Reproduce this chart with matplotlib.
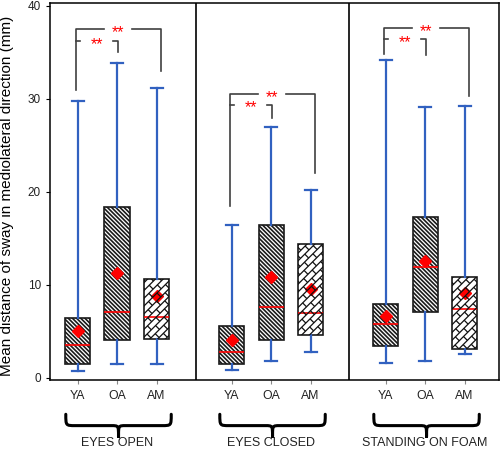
import numpy as np
import matplotlib
matplotlib.use('Agg')
import matplotlib.pyplot as plt
from matplotlib.path import Path
from matplotlib.patches import PathPatch
from matplotlib.collections import LineCollection
from matplotlib import transforms

plt.rcParams['font.family'] = ['Liberation Sans', 'DejaVu Sans']
plt.rcParams['hatch.linewidth'] = 1.2

# data (mm)
groups = ['EYES OPEN', 'EYES CLOSED', 'STANDING ON FOAM']
subjects = ['YA', 'OA', 'AM']
whis_lo = [0.75, 1.5, 1.5, 0.9, 1.8, 2.8, 1.6, 1.8, 2.6]
q1 = [1.5, 4.1, 4.2, 1.5, 4.1, 4.6, 3.4, 7.1, 3.1]
med = [3.5, 7.1, 6.6, 2.8, 7.6, 7.0, 5.8, 11.9, 7.4]
q3 = [6.45, 18.4, 10.6, 5.6, 16.5, 14.4, 8.0, 17.3, 10.9]
whis_hi = [29.8, 33.9, 31.2, 16.5, 27.0, 20.2, 34.2, 29.1, 29.2]
means = [5.1, 11.3, 8.8, 4.1, 10.9, 9.6, 6.7, 12.6, 9.1]

# significance brackets (YA vs AM = outer, YA vs OA = inner)
sig_label = '**'
outer_y = [37.5, 30.5, 37.6]
outer_left_end = [31.0, 18.5, 34.8]
outer_right_end = [33.0, 22.0, 30.3]
inner_y = [36.2, 29.4, 36.4]
inner_right_end = [35.0, 28.0, 34.7]

yticks = [0, 10, 20, 30, 40]
ylabel = 'Mean distance of sway in mediolateral direction (mm)'

# layout
group_start = [1.0, 4.9, 8.8]
dividers = [4.0, 7.87]
positions = [s + k for s in group_start for k in range(3)]
blue = '#3161c0'
brk = '#404040'

fig = plt.figure(figsize=(5, 4.5), dpi=100)
ax = fig.add_axes([50 / 500, 1 - 380 / 450, 449 / 500, 377 / 450])
ax.set_xlim(0.3, 11.67)
ax.set_ylim(-0.22, 40.32)

stats = []
for i in range(9):
    stats.append(dict(label=subjects[i % 3], whislo=whis_lo[i], q1=q1[i], med=med[i],
                      q3=q3[i], whishi=whis_hi[i], mean=means[i], fliers=[]))

bp = ax.bxp(stats, positions=positions, widths=0.64, capwidths=0.3, patch_artist=True,
            showmeans=True, manage_ticks=False,
            boxprops=dict(facecolor='white', edgecolor='#1a1a1a', linewidth=1.2),
            whiskerprops=dict(color=blue, linewidth=1.6),
            capprops=dict(color=blue, linewidth=1.6),
            medianprops=dict(color='red', linewidth=1.2),
            meanprops=dict(marker='D', markerfacecolor='red', markeredgecolor='red',
                           markersize=6.5))


def brick_fill(patch, s=5.5, L=12.0):
    # diagonal brick pattern drawn in pixel space and clipped to the box
    ext = patch.get_path().get_extents(patch.get_transform())
    X0, Y0, X1, Y1 = ext.x0, ext.y0, ext.x1, ext.y1
    r2 = np.sqrt(2)
    umin, umax = (X0 + Y0) / r2, (X1 + Y1) / r2
    vmin, vmax = (Y0 - X1) / r2, (Y1 - X0) / r2
    segs = []
    inv = ax.transData.inverted()

    def to_data(u, v):
        return inv.transform(((u - v) / r2, (u + v) / r2))

    for k in range(int(np.floor(vmin / s)) - 1, int(np.ceil(vmax / s)) + 1):
        v = k * s
        segs.append([to_data(umin, v), to_data(umax, v)])
        off = (k % 2) * L / 2
        j0 = int(np.floor((umin - off) / L)) - 1
        j1 = int(np.ceil((umax - off) / L)) + 1
        for j in range(j0, j1):
            u = j * L + off
            segs.append([to_data(u, v), to_data(u, v + s)])
    lc = LineCollection(segs, colors='#111111', linewidths=0.9, zorder=2.1)
    ax.add_collection(lc)
    lc.set_clip_path(patch)


for i, box in enumerate(bp['boxes']):
    if subjects[i % 3] == 'AM':
        brick_fill(box)
    else:
        box.set_hatch('\\' * 8)

# panel dividers
for d in dividers:
    ax.axvline(d, color='k', linewidth=1.2)

# significance brackets
star_tr = transforms.offset_copy(ax.transData, fig=fig, y=-5.6, units='points')
for g in range(3):
    pa, pb, pc = positions[3 * g:3 * g + 3]
    xl, xr, xm = pa - 0.05, pc + 0.1, pb + 0.02
    cx = (xl + xr) / 2
    yo = outer_y[g]
    ax.plot([xl, xl, cx - 0.36], [outer_left_end[g], yo, yo], color=brk, lw=1.2)
    ax.plot([cx + 0.36, xr, xr], [yo, yo, outer_right_end[g]], color=brk, lw=1.2)
    ax.text(cx, yo, sig_label, color='red', fontsize=11.5, ha='center', va='baseline',
            transform=star_tr)
    ci = (xl + xm) / 2
    yi = inner_y[g]
    ax.plot([xl, ci - 0.42], [yi, yi], color=brk, lw=1.2)
    ax.plot([ci + 0.42, xm, xm], [yi, yi, inner_right_end[g]], color=brk, lw=1.2)
    ax.text(ci, yi, sig_label, color='red', fontsize=11.5, ha='center', va='baseline',
            transform=star_tr)

# axes styling
ax.set_xticks(positions)
ax.set_xticklabels(subjects * 3)
ax.set_yticks(yticks)
ax.tick_params(axis='x', length=3, width=0.8, pad=4.5, labelsize=8.8, color='#888888',
               labelcolor='#222222')
ax.tick_params(axis='y', length=3, width=0.8, pad=3.5, labelsize=8.5,
               labelcolor='#222222')
for sp in ax.spines.values():
    sp.set_color('black')
    sp.set_linewidth(1.1)
ax.set_ylabel(ylabel, fontsize=11)
ax.yaxis.set_label_coords(-0.08, 0.488)

# curly braces under each condition
xtr = ax.get_xaxis_transform()
yt, ym, yb = -0.091, -0.121, -0.150
for g in range(3):
    a = positions[3 * g] - 0.3
    b = positions[3 * g + 2] + 0.37
    m = (a + b) / 2
    r, rm = 0.24, 0.18
    verts = [(a, yt), (a, ym), (a, ym), (a + r, ym),
             (m - rm, ym),
             (m, ym), (m, ym), (m, yb),
             (m, ym), (m, ym), (m + rm, ym),
             (b - r, ym),
             (b, ym), (b, ym), (b, yt)]
    codes = [Path.MOVETO, Path.CURVE4, Path.CURVE4, Path.CURVE4,
             Path.LINETO,
             Path.CURVE4, Path.CURVE4, Path.CURVE4,
             Path.CURVE4, Path.CURVE4, Path.CURVE4,
             Path.LINETO,
             Path.CURVE4, Path.CURVE4, Path.CURVE4]
    ax.add_patch(PathPatch(Path(verts, codes), facecolor='none', edgecolor='black',
                           linewidth=2.2, transform=xtr, clip_on=False,
                           capstyle='round', joinstyle='round'))
    ax.text(positions[3 * g + 1], -0.167, groups[g], transform=xtr, ha='center',
            va='center', fontsize=9, color='#222222')

fig.savefig('out.png', dpi=100)
